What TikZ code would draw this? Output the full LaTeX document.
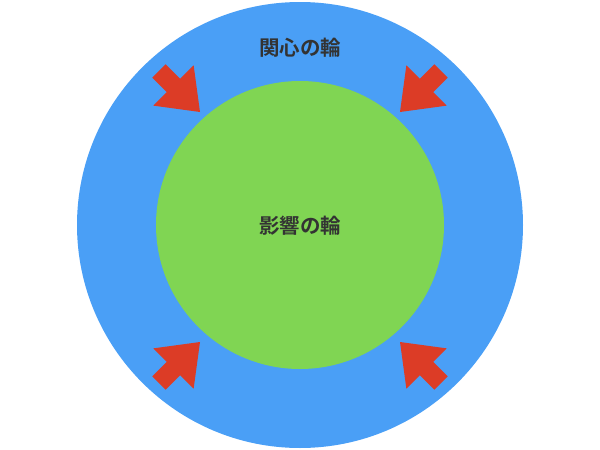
\documentclass[tikz,border=0pt]{standalone}
\usepackage{fontspec}
\newfontfamily\jpfont{Noto Sans CJK JP}[BoldFont={Noto Sans CJK JP Bold}]
\definecolor{ringblue}{HTML}{4A9FF6}
\definecolor{ringgreen}{HTML}{80D553}
\definecolor{arrowred}{HTML}{DC3C26}
\definecolor{labelgray}{HTML}{333333}
\tikzset{
  ringlabel/.style={text=labelgray,font=\jpfont\bfseries\fontsize{20.5}{24}\selectfont},
  pusharrow/.style={fill=arrowred}
}
\begin{document}
\begin{tikzpicture}[x=1pt,y=-1pt]
        \useasboundingbox (0,0) rectangle (600,450);

        % Draw the circle of concern
        \fill[ringblue] (300,225) circle (223);
        \node[ringlabel] (concern) at (300,48) {関心の輪};

        % Draw the circle of influence
        \fill[ringgreen] (300,225) circle (144);
        \node[ringlabel] (influence) at (300,226) {影響の輪};

        % Draw the arrows pushing inwards
        \foreach \tipx/\tipy/\ang in {200/112/-45, 400/112/-135, 200/342/45, 400/342/135}{
            \fill[pusharrow,shift={(\tipx,\tipy)},rotate=\ang]
                (0,0) -- (-37.5,28.5) -- (-37.5,9.5) -- (-58,9.5) -- (-58,-9.5)
                -- (-37.5,-9.5) -- (-37.5,-28.5) -- cycle;
        }
    \end{tikzpicture}
\end{document}
